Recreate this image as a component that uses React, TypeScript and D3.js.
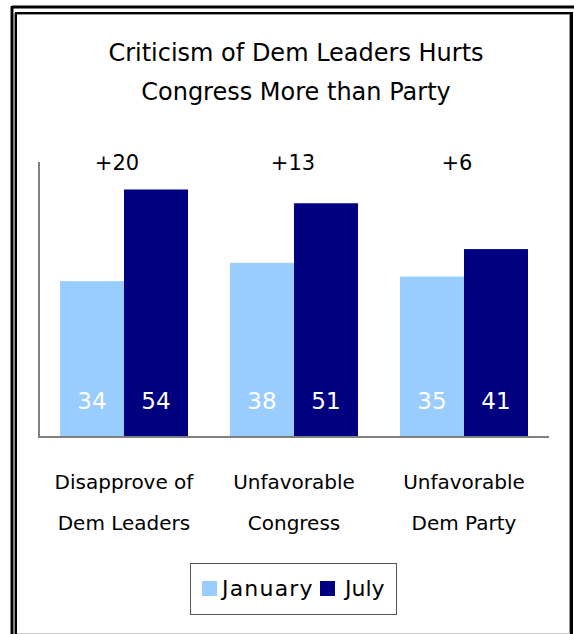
import React from "react";
import * as d3 from "d3";

const categories = ["Disapprove of|Dem Leaders", "Unfavorable|Congress", "Unfavorable|Dem Party"];
const seriesNames = ["January", "July"];
const january = [34, 38, 35];
const july = [54, 51, 41];
const seriesColors = ["#99CCFF", "#000080"];
const titleLines = ["Criticism of Dem Leaders Hurts", "Congress More than Party"];
const yMax = 60;

const W = 574;
const H = 634;
const FONT = "'DejaVu Sans', sans-serif";

export default function App() {
  const x0 = d3.scaleBand<string>().domain(categories).range([39, 549]).padding(0);
  const x1 = d3
    .scaleBand<string>()
    .domain(seriesNames)
    .range([0, x0.bandwidth()])
    .paddingInner(0)
    .paddingOuter(0.328);
  const y = d3.scaleLinear().domain([0, yMax]).range([437, 162]);
  const values = [january, july];
  const diffOffsets = [-7, -1, -7];

  return (
    <svg
      width={W}
      height={H}
      style={{ position: "absolute", left: 0, top: 0, background: "#fff" }}
      fontFamily={FONT}
    >
      <rect x={0} y={0} width={W} height={H} fill="#fff" />
      {/* outer frame */}
      <line x1={12} y1={7} x2={W} y2={7} stroke="#000" strokeWidth={3} />
      <line x1={12} y1={6} x2={12} y2={H} stroke="#000" strokeWidth={3} />
      {/* inner frame */}
      <line x1={14.5} y1={13} x2={14.5} y2={H} stroke="#888" strokeWidth={1} />
      <line x1={16} y1={13} x2={16} y2={H} stroke="#000" strokeWidth={2} />
      <line x1={15} y1={13} x2={573} y2={13} stroke="#000" strokeWidth={2} />
      <line x1={17} y1={14.5} x2={570} y2={14.5} stroke="#999" strokeWidth={1} />
      <line x1={569.5} y1={14} x2={569.5} y2={H} stroke="#999" strokeWidth={1} />
      <line x1={571.5} y1={12} x2={571.5} y2={H} stroke="#000" strokeWidth={3} />
      <line x1={17} y1={633.5} x2={570} y2={633.5} stroke="#d0d0d0" strokeWidth={1} />

      {/* title */}
      {titleLines.map((t, i) => (
        <text key={t} x={296} y={61 + i * 39} textAnchor="middle" fontSize={24} fill="#000">
          {t}
        </text>
      ))}

      {/* bars */}
      {categories.map((c, ci) => (
        <g key={c} transform={`translate(${x0(c)},0)`}>
          {seriesNames.map((s, si) => {
            const v = values[si][ci];
            const bx = x1(s)!;
            return (
              <g key={s}>
                <rect
                  x={bx}
                  y={y(v)}
                  width={x1.bandwidth()}
                  height={y(0) - y(v)}
                  fill={seriesColors[si]}
                />
                <text
                  x={bx + x1.bandwidth() / 2}
                  y={y(0) - 28}
                  textAnchor="middle"
                  fontSize={23}
                  fill="#fff"
                >
                  {v}
                </text>
              </g>
            );
          })}
          <text
            x={x0.bandwidth() / 2 + diffOffsets[ci]}
            y={170}
            textAnchor="middle"
            fontSize={21}
            fill="#000"
          >
            {"+" + (july[ci] - january[ci])}
          </text>
          {c.split("|").map((line, li) => (
            <text
              key={line}
              x={x0.bandwidth() / 2}
              y={489 + li * 41}
              textAnchor="middle"
              fontSize={20}
              fill="#000"
            >
              {line}
            </text>
          ))}
        </g>
      ))}

      {/* axes */}
      <line x1={39} y1={y(yMax)} x2={39} y2={y(0) + 1} stroke="#808080" strokeWidth={2} />
      <line x1={38} y1={y(0)} x2={549} y2={y(0)} stroke="#808080" strokeWidth={2} />

      {/* legend */}
      <rect x={190.5} y={563.5} width={206} height={51} fill="#fff" stroke="#555" strokeWidth={1} />
      <rect x={202} y={581} width={15} height={15} fill={seriesColors[0]} />
      <text x={222} y={596} fontSize={22} letterSpacing={1.2} fill="#000">
        {seriesNames[0]}
      </text>
      <rect x={320} y={581} width={15} height={15} fill={seriesColors[1]} />
      <text x={345} y={596} fontSize={22} fill="#000">
        {seriesNames[1]}
      </text>
    </svg>
  );
}
